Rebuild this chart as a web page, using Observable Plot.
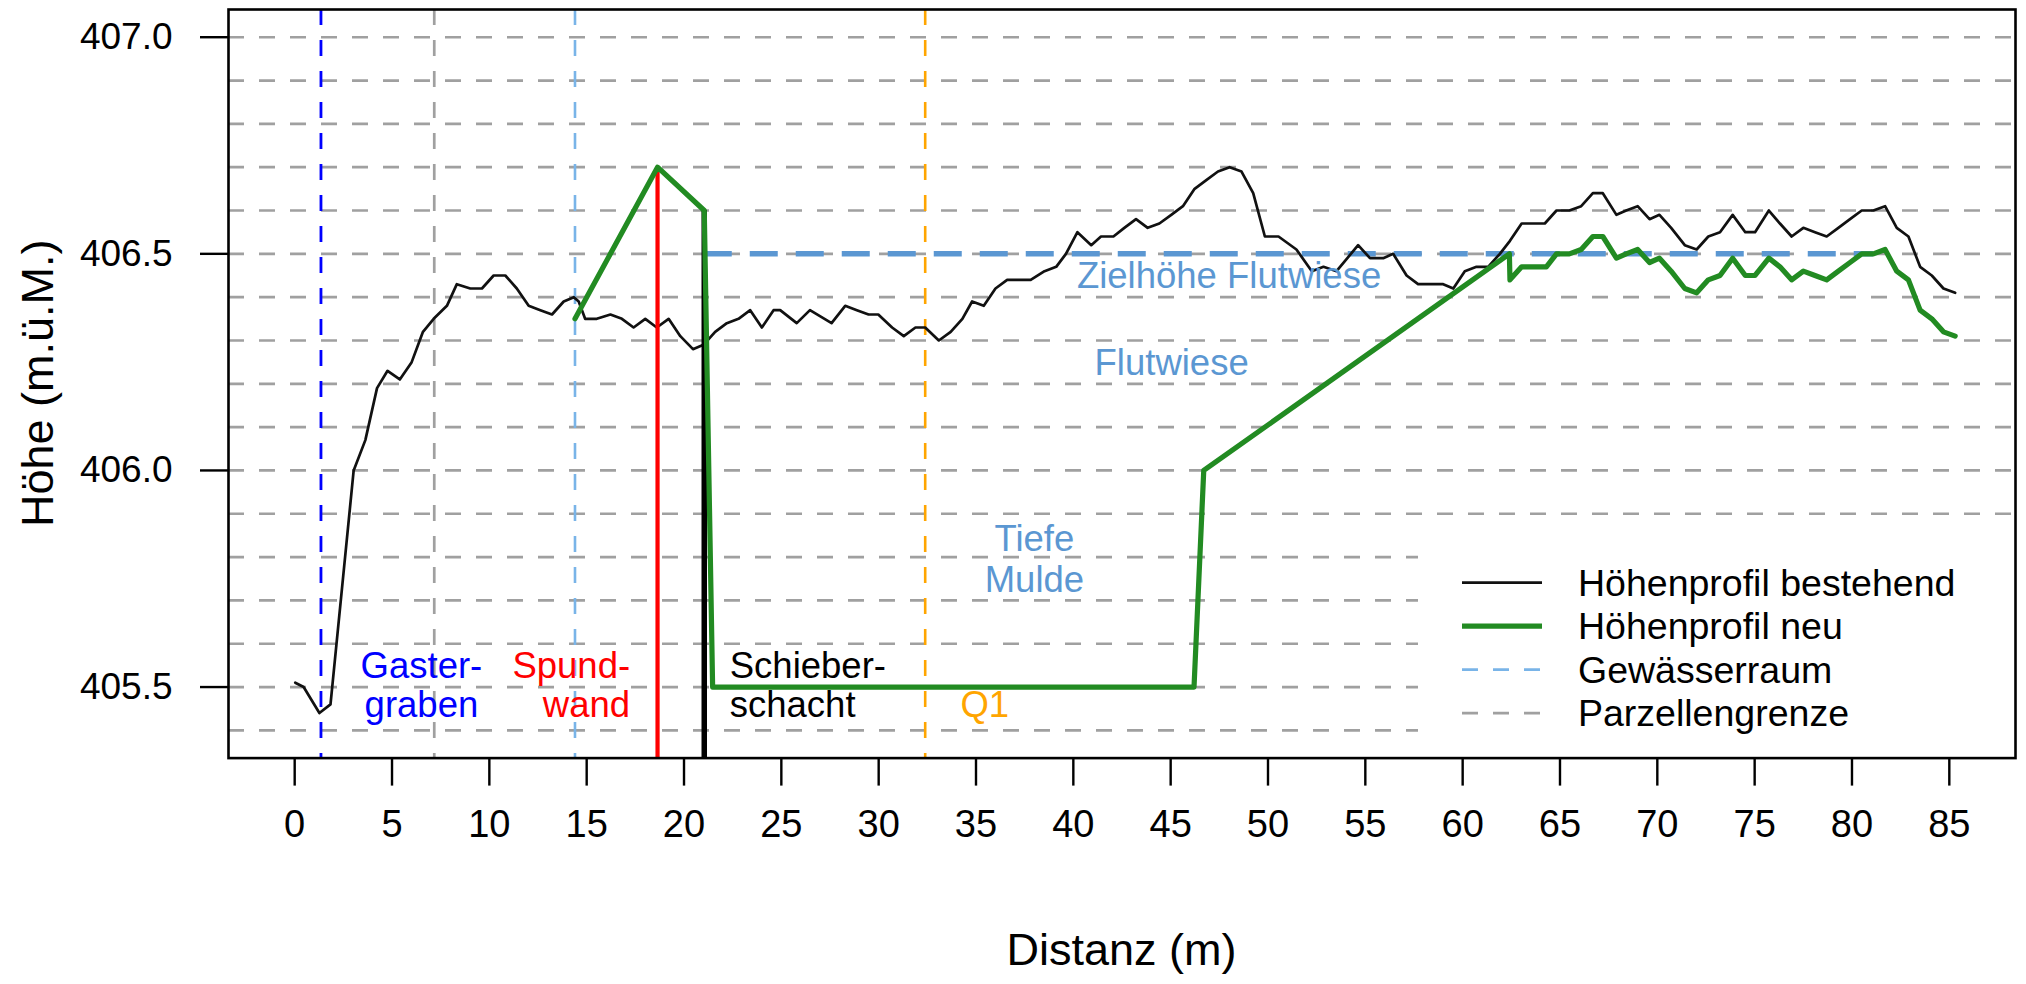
<!DOCTYPE html>
<html>
<head>
<meta charset="utf-8">
<script src="https://cdn.jsdelivr.net/npm/d3@7"></script>
<script src="https://cdn.jsdelivr.net/npm/@observablehq/plot@0.6"></script>
<style>
  html, body { margin: 0; padding: 0; background: #fff; }
  svg { display: block; }
</style>
</head>
<body>
<div id="chart"></div>
<script>
// ---- data ----
const xTicks = [0, 5, 10, 15, 20, 25, 30, 35, 40, 45, 50, 55, 60, 65, 70, 75, 80, 85];
const yTicks = [405.5, 406.0, 406.5, 407.0];
const gridLevels = [405.4, 405.5, 405.6, 405.7, 405.8, 405.9, 406.0, 406.1, 406.2, 406.3, 406.4, 406.5, 406.6, 406.7, 406.8, 406.9, 407.0];

// Höhenprofil bestehend: [Distanz, Höhe]
const profilBestehend = [
  [0.03,405.51],[0.46,405.50],[1.27,405.44],[1.84,405.46],[3.03,406.00],[3.63,406.07],[4.23,406.19],[4.77,406.23],
  [5.40,406.21],[6.01,406.25],[6.59,406.32],[7.14,406.35],[7.82,406.38],[8.33,406.43],[9.02,406.42],[9.62,406.42],
  [10.22,406.45],[10.82,406.45],[11.41,406.42],[12.02,406.38],[12.62,406.37],[13.22,406.36],[13.82,406.39],[14.34,406.40],
  [14.59,406.39],[14.92,406.35],[15.52,406.35],[16.22,406.36],[16.81,406.35],[17.41,406.33],[18.01,406.35],[18.60,406.33],
  [19.21,406.35],[19.81,406.31],[20.46,406.28],[21.00,406.29],[21.60,406.32],[22.20,406.34],[22.80,406.35],[23.40,406.37],
  [24.00,406.33],[24.60,406.37],[24.94,406.37],[25.79,406.34],[26.47,406.37],[27.58,406.34],[28.28,406.38],[28.88,406.37],
  [29.48,406.36],[29.98,406.36],[30.69,406.33],[31.29,406.31],[31.89,406.33],[32.39,406.33],[33.09,406.30],[33.70,406.32],
  [34.30,406.35],[34.80,406.39],[35.40,406.38],[36.00,406.42],[36.60,406.44],[37.81,406.44],[38.52,406.46],[39.12,406.47],
  [39.62,406.50],[40.21,406.55],[40.92,406.52],[41.42,406.54],[42.06,406.54],[42.62,406.56],[43.22,406.58],[43.82,406.56],
  [44.42,406.57],[45.03,406.59],[45.63,406.61],[46.23,406.65],[46.83,406.67],[47.43,406.69],[48.03,406.70],[48.64,406.69],
  [49.24,406.64],[49.84,406.54],[50.54,406.54],[51.46,406.51],[52.25,406.46],[52.85,406.47],[53.52,406.46],[54.63,406.52],
  [55.24,406.49],[55.92,406.49],[56.43,406.50],[57.12,406.45],[57.71,406.43],[59.00,406.43],[59.52,406.42],[60.11,406.46],
  [60.71,406.47],[61.31,406.47],[61.91,406.50],[62.43,406.53],[63.03,406.57],[63.62,406.57],[64.22,406.57],[64.82,406.60],
  [65.48,406.60],[66.09,406.61],[66.69,406.64],[67.20,406.64],[67.90,406.59],[68.40,406.60],[68.99,406.61],[69.60,406.58],
  [70.11,406.59],[70.71,406.56],[71.41,406.52],[72.02,406.51],[72.62,406.54],[73.22,406.55],[73.87,406.59],[74.52,406.55],
  [75.02,406.55],[75.73,406.60],[76.30,406.57],[76.90,406.54],[77.50,406.56],[78.10,406.55],[78.70,406.54],[79.30,406.56],
  [79.90,406.58],[80.50,406.60],[81.10,406.60],[81.70,406.61],[82.30,406.56],[82.90,406.54],[83.50,406.47],[84.10,406.45],
  [84.70,406.42],[85.30,406.41]
];

// Höhenprofil neu: [Distanz, Höhe]
const profilNeu = [
  [14.40,406.35],[18.64,406.70],[21.04,406.60],[21.47,405.50],[46.20,405.50],[46.70,406.00],[62.40,406.50],[62.43,406.44],
  [63.03,406.47],[64.30,406.47],[64.82,406.50],[65.48,406.50],[66.09,406.51],[66.69,406.54],[67.20,406.54],[67.90,406.49],
  [68.40,406.50],[68.99,406.51],[69.60,406.48],[70.11,406.49],[70.71,406.46],[71.41,406.42],[72.02,406.41],[72.62,406.44],
  [73.22,406.45],[73.87,406.49],[74.52,406.45],[75.02,406.45],[75.73,406.49],[76.30,406.47],[76.90,406.44],[77.50,406.46],
  [78.10,406.45],[78.70,406.44],[79.30,406.46],[79.90,406.48],[80.50,406.50],[81.10,406.50],[81.70,406.51],[82.30,406.46],
  [82.90,406.44],[83.50,406.37],[84.10,406.35],[84.70,406.32],[85.30,406.31]
];

// vertical markers (Distanz)
const gastergrabenX = [1.35];
const parzellengrenzeX = [7.17];
const gewaesserraumX = [14.40];
const q1X = [32.39];
const spundwand = [{x: 18.64, top: 406.70}];
const schieberschacht = [{x: 21.04, top: 406.60}];
const zielhoehe = [{from: 21.04, to: 81.10, level: 406.5}];

// annotations (data coordinates)
const labelsGaster = [{t: "Gaster-", x: 6.51, y: 405.52}, {t: "graben", x: 6.51, y: 405.43}];
const labelsSpund = [{t: "Spund-", x: 17.23, y: 405.52}, {t: "wand", x: 17.23, y: 405.43}];
const labelsSchieber = [{t: "Schieber-", x: 22.35, y: 405.52}, {t: "schacht", x: 22.35, y: 405.43}];
const labelsQ1 = [{t: "Q1", x: 34.2, y: 405.43}];
const labelsFlut = [
  {t: "Tiefe", x: 38.0, y: 405.815}, {t: "Mulde", x: 38.0, y: 405.72},
  {t: "Flutwiese", x: 45.05, y: 406.22}, {t: "Zielhöhe Flutwiese", x: 48.0, y: 406.42}
];

const legendItems = ["Höhenprofil bestehend", "Höhenprofil neu", "Gewässerraum", "Parzellengrenze"];

// ---- chart ----
const FONT = "'Liberation Sans', Arial, Helvetica, sans-serif";
const GRID = "#a0a0a0";
const SKY = "#79b4e8";
const STEEL = "#5b97d2";
const GREEN = "#228b22";
const ex = profilBestehend.map(([d, h]) => ({d, h}));
const neu = profilNeu.map(([d, h]) => ({d, h}));
const annFont = 36.5;

const legendStyles = [
  {stroke: "#111", width: 2.7, dash: null},
  {stroke: GREEN, width: 5.2, dash: null},
  {stroke: SKY, width: 2.6, dash: "16,15"},
  {stroke: GRID, width: 2.6, dash: "16,15"}
];

// custom Plot mark: legend box in the bottom-right corner of the frame, and axis titles
function legendMark(index, scales, values, dim) {
  const right = dim.width - dim.marginRight;
  const bottom = dim.height - dim.marginBottom;
  const left = dim.marginLeft;
  const top = dim.marginTop;
  const g = d3.create("svg:g").attr("font-family", FONT);
  g.append("rect").attr("x", right - 597).attr("y", bottom - 226)
    .attr("width", 597).attr("height", 226).attr("fill", "#ffffff").attr("stroke", "none");
  legendItems.forEach((label, i) => {
    const yy = bottom - 175 + i * 43.5;
    const s = legendStyles[i];
    const ln = g.append("line").attr("x1", right - 553).attr("x2", right - 473).attr("y1", yy).attr("y2", yy)
      .attr("stroke", s.stroke).attr("stroke-width", s.width);
    if (s.dash) ln.attr("stroke-dasharray", s.dash);
    g.append("text").attr("x", right - 437).attr("y", yy).attr("dy", "0.35em")
      .attr("text-anchor", "start").attr("font-size", 37.5).attr("fill", "black").text(label);
  });
  // axis titles
  g.append("text").attr("x", (left + right) / 2).attr("y", bottom + 207)
    .attr("text-anchor", "middle").attr("font-size", 45).attr("fill", "black").text("Distanz (m)");
  g.append("text").attr("transform", `translate(${left - 175},${(top + bottom) / 2}) rotate(-90)`)
    .attr("text-anchor", "middle").attr("font-size", 45).attr("fill", "black").text("Höhe (m.ü.M.)");
  return g.node();
}

const chart = Plot.plot({
  width: 2026,
  height: 984,
  marginLeft: 228,
  marginRight: 11,
  marginTop: 9,
  marginBottom: 226.4,
  style: {fontFamily: FONT, background: "white", color: "black"},
  x: {domain: [-3.4, 88.4]},
  y: {domain: [405.336, 407.064]},
  marks: [
    Plot.ruleY(gridLevels, {stroke: GRID, strokeWidth: 2.7, strokeDasharray: "16,15"}),
    Plot.ruleX(parzellengrenzeX, {stroke: GRID, strokeWidth: 2.7, strokeDasharray: "16,15"}),
    Plot.ruleX(gastergrabenX, {stroke: "#0000ff", strokeWidth: 2.8, strokeDasharray: "16,15"}),
    Plot.ruleX(gewaesserraumX, {stroke: SKY, strokeWidth: 2.6, strokeDasharray: "16,15"}),
    Plot.ruleX(q1X, {stroke: "#ffa500", strokeWidth: 2.6, strokeDasharray: "16,15"}),
    Plot.ruleY(zielhoehe, {y: "level", x1: "from", x2: "to", stroke: STEEL, strokeWidth: 5.5, strokeDasharray: "28,18"}),
    Plot.line(ex, {x: "d", y: "h", stroke: "#111", strokeWidth: 2.7, strokeLinejoin: "round"}),
    Plot.ruleX(spundwand, {x: "x", y1: 405.336, y2: "top", stroke: "#ff0000", strokeWidth: 4.2}),
    Plot.ruleX(schieberschacht, {x: "x", y1: 405.336, y2: "top", stroke: "#000", strokeWidth: 5.5}),
    Plot.line(neu, {x: "d", y: "h", stroke: GREEN, strokeWidth: 5.2, strokeLinejoin: "round"}),
    Plot.text(labelsGaster, {x: "x", y: "y", text: "t", fill: "#0000ff", fontSize: annFont, textAnchor: "middle", lineAnchor: "bottom"}),
    Plot.text(labelsSpund, {x: "x", y: "y", text: "t", fill: "#ff0000", fontSize: annFont, textAnchor: "end", lineAnchor: "bottom"}),
    Plot.text(labelsSchieber, {x: "x", y: "y", text: "t", fill: "#000", fontSize: annFont, textAnchor: "start", lineAnchor: "bottom"}),
    Plot.text(labelsQ1, {x: "x", y: "y", text: "t", fill: "#ffa500", fontSize: annFont, textAnchor: "start", lineAnchor: "bottom"}),
    Plot.text(labelsFlut, {x: "x", y: "y", text: "t", fill: STEEL, fontSize: annFont, textAnchor: "middle", lineAnchor: "bottom"}),
    Plot.axisX(xTicks, {anchor: "bottom", tickSize: 28, tickPadding: 24, fontSize: 38, strokeWidth: 2.4, label: null}),
    Plot.axisY(yTicks, {anchor: "left", tickSize: 28, tickPadding: 28, fontSize: 37, strokeWidth: 2.4, tickFormat: d3.format(".1f"), label: null}),
    legendMark,
    Plot.frame({stroke: "#000", strokeWidth: 2.6})
  ]
});

document.getElementById("chart").appendChild(chart);
</script>
</body>
</html>
